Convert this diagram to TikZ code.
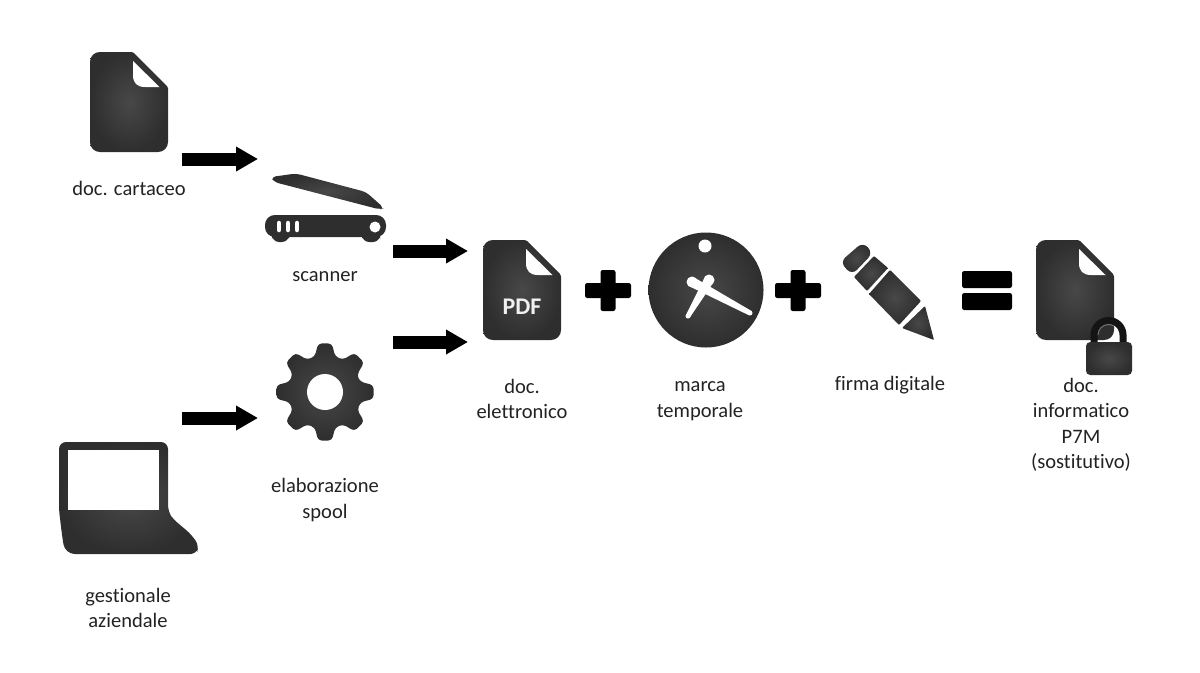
\documentclass[tikz,border=0pt]{standalone}
\usepackage{fontspec}
\setmainfont{Carlito}[Ligatures=NoCommon]
\usetikzlibrary{arrows.meta}
\definecolor{iconlight}{HTML}{484848}
\definecolor{icondark}{HTML}{2E2E2E}
\definecolor{labelgray}{HTML}{222222}
\tikzset{
    iconfill/.style={shade,inner color=iconlight,outer color=icondark,draw=none},
    blockarrow/.style={draw=black,line width=9.25pt,-{Triangle[length=15.6pt,width=16.6pt]}},
    signbar/.style={fill=black,rounded corners=1.6pt},
    docicon/.pic={
        \path[iconfill,rounded corners=7pt](0,50)--(0,0)[rounded corners=1pt]--(43,0)--(78,35)[rounded corners=7pt]--(78,100)--(0,100)--cycle;
        \path[fill=white](43,9)--(69.5,35)--(55,35)..controls(47,35)and(43,31)..(43,23)--cycle;
    },
    plusicon/.pic={
        \path[signbar](-23,-7.5)rectangle(23,7.5);
        \path[signbar](-7.5,-20.5)rectangle(7.5,20.5);
    }
}
\begin{document}
\begin{tikzpicture}[x=0.025cm,y=-0.025cm,
    caption/.style={font=\fontsize{14.6}{18.1}\selectfont,text=labelgray,align=center,inner sep=0pt}]
    \useasboundingbox(0,0)rectangle(1200,672);

    % documents
    \pic at(90,52){docicon};
    \pic at(483,240){docicon};
    \pic at(1036,240){docicon};
    \node[font=\fontsize{17}{18}\selectfont\bfseries,text=white!94!black,inner sep=0pt](pdftext)at(522,307){PDF};

    % scanner
    \path[iconfill,rounded corners=3pt](271,177)--(296,173.5)--(366,192)--(384,208)--(380,209.5)--(274,182)--cycle;
    \path[fill=icondark,rounded corners=5pt](272,232)rectangle(289,242);
    \path[fill=icondark,rounded corners=5pt](362,232)rectangle(380,242);
    \path[fill=icondark,rounded corners=7pt](265,215)rectangle(386,237);
    \foreach \xslot in {279,288,297}
        \draw[white,line width=3.2pt,line cap=round](\xslot,223)--(\xslot,230);
    \path[fill=white](375,227)circle[radius=5.5];

    % gear
    \begin{scope}[shift={(325,392)}]
        \path[iconfill,rounded corners=2.5pt](-22.5:36)
            \foreach \ang in {0,45,...,315}{
                --(\ang-16:37)--(\ang-8:49)--(\ang+8:49)--(\ang+16:37)
            }--cycle;
        \path[fill=white](0,0)circle[radius=18];
    \end{scope}

    % laptop
    \path[iconfill,rounded corners=5pt](59,480)--(59,442)--(168,442)--(168,512)--(173,519)--(192,535)[rounded corners=4pt]--(199,546)--(196,554)[rounded corners=7pt]--(65,554)[rounded corners=3pt]--(62,535)--(59,510)--cycle;
    \path[fill=white](68,450)rectangle(159,510);

    % clock
    \path[iconfill](706,290)circle[radius=57.5];
    \path[fill=white](705,246)circle[radius=6.5];
    \path[fill=white](689.6,286.4)--(694.4,277.6)--(751.2,310.8)--(748.8,315.2)--cycle;
    \path[fill=white](713.3,282.5)--(704.7,277.5)--(686,314.8)--(690,317.3)--cycle;
    \path[fill=white](692,282)circle[radius=5.5];
    \path[fill=white](709,280)circle[radius=5.5];
    \path[fill=white](750,313)circle[radius=2.5];
    \path[fill=white](688,316)circle[radius=2.5];

    % pencil
    \path[iconfill,rounded corners=5pt](863,242)--(873,253)--(852,275)--(840,262)--cycle;
    \path[iconfill,rounded corners=.7pt](874,256)--(888,268)--(867,291)--(854,277)--cycle;
    \path[iconfill,rounded corners=.7pt](890,270)--(921,301)--(899,325)--(869,294)--cycle;
    \path[iconfill,rounded corners=.7pt](925,306)--(902,328)--(934,340)--cycle;

    % lock
    \draw[black!92,line width=5pt](1094,345)--(1094,335)arc[start angle=180,end angle=360,radius=14.5]--(1123,345);
    \draw[black!55,line width=.7pt](1098,335)arc[start angle=180,end angle=300,radius=10.5];
    \path[iconfill,rounded corners=3pt](1086,342)rectangle(1132,375);

    % signs
    \pic at(608,290.5){plusicon};
    \pic at(798,290.5){plusicon};
    \path[signbar](962,271)rectangle(1012,288);
    \path[signbar](962,293)rectangle(1012,310);

    % arrows
    \coordinate(paperout)at(182,159);
    \coordinate(scannerin)at(258,159);
    \coordinate(scannerout)at(393,251);
    \coordinate(pdfinup)at(468,251);
    \coordinate(gearout)at(393,342);
    \coordinate(pdfindown)at(468,342);
    \coordinate(laptopout)at(182,418);
    \coordinate(gearin)at(258,418);
    \draw[blockarrow](paperout)--(scannerin);
    \draw[blockarrow](scannerout)--(pdfinup);
    \draw[blockarrow](gearout)--(pdfindown);
    \draw[blockarrow](laptopout)--(gearin);

    % labels
    \node[caption](cartaceo)at(129,188){doc. cartaceo};
    \node[caption](scanner)at(325,277){scanner};
    \node[caption](elettronico)at(522,399){doc.\\elettronico};
    \node[caption](marca)at(700,401){marca\\temporale};
    \node[caption](firma)at(890,385){firma digitale};
    \node[caption](informatico)at(1081,425){doc.\\informatico\\P7M\\(sostitutivo)};
    \node[caption](spool)at(325,500){elaborazione\\spool};
    \node[caption](gestionale)at(128,608){gestionale\\aziendale};
\end{tikzpicture}
\end{document}
